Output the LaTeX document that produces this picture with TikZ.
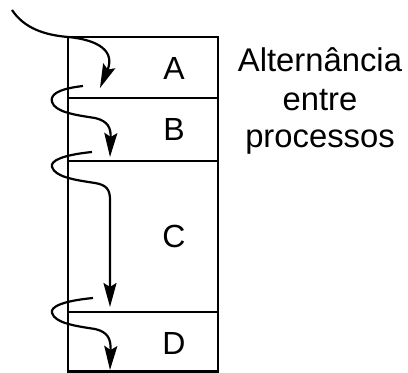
\documentclass[tikz,border=0pt]{standalone}
\usepackage{fontspec}
\setmainfont{Liberation Sans}
\usetikzlibrary{arrows.meta}
\begin{document}
\begin{tikzpicture}[x=0.5pt,y=-0.5pt,
  frame/.style={line width=1.1pt},
  flow/.style={line width=1.1pt,-{Stealth[length=12pt,width=6.5pt,inset=2pt]}},
  lbl/.style={font=\fontsize{16}{19}\selectfont,anchor=base,inner sep=0pt},
  captext/.style={font=\fontsize{16.4}{19}\selectfont,anchor=base,inner sep=0pt}]
\useasboundingbox (0,0) rectangle (408,373);
% the four slices of time, one process each
\draw[frame] (68,37) rectangle (218,371.5);
\draw[frame] (68,98) -- (218,98);
\draw[frame] (68,161) -- (218,161);
\draw[frame] (68,312) -- (218,312);
\node[lbl] (A) at (174,80) {A};
\node[lbl] (B) at (174,141) {B};
\node[lbl] (C) at (174,248) {C};
\node[lbl] (D) at (174,355) {D};
% caption
\node[captext] (t1) at (320,72) {Alternância};
\node[captext] (t2) at (320,111) {entre};
\node[captext] (t3) at (320,148) {processos};
% control passing from one process to the next
\coordinate (s1) at (12,10);
\coordinate (s2) at (83,86);
\coordinate (s3) at (92,152);
\coordinate (s4) at (93,298);
\draw[flow] (s1) .. controls (24,28) and (44,35) .. (68,37)
  .. controls (100,40) and (115,52) .. (100,88);
\draw[flow] (s2) .. controls (57,89) and (50,95) .. (52,102)
  .. controls (55,112) and (75,115) .. (95,118)
  .. controls (108,121) and (111,128) .. (110,157);
\draw[flow] (s3) .. controls (62,155) and (50,161) .. (52,167)
  .. controls (55,177) and (75,180) .. (95,183)
  .. controls (107,185) and (110,190) .. (110,200) -- (110,307);
\draw[flow] (s4) .. controls (62,301) and (50,307) .. (52,313)
  .. controls (55,323) and (75,326) .. (95,329)
  .. controls (108,332) and (111,339) .. (110,370);
\end{tikzpicture}
\end{document}
